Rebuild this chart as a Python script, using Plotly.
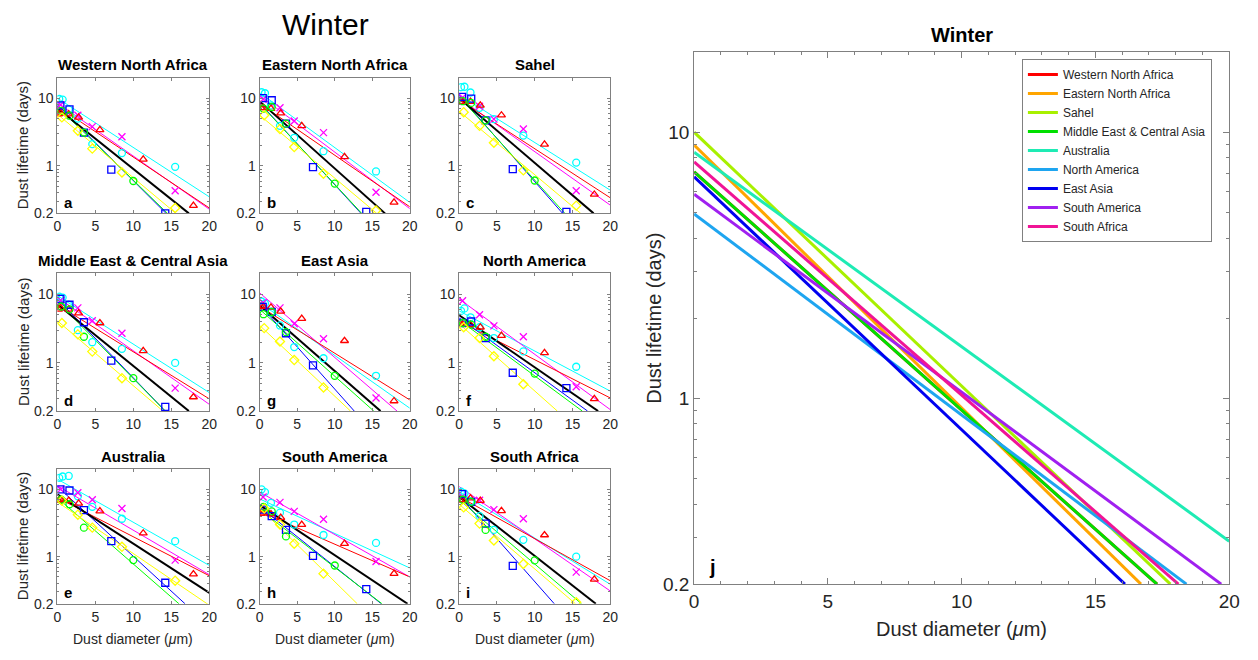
import math
import plotly.graph_objects as go

W, H = 1258, 660

# ---------------- data ----------------
regions = ["Western North Africa", "Eastern North Africa", "Sahel",
           "Middle East & Central Asia", "Australia", "North America",
           "East Asia", "South America", "South Africa"]
region_colors = ["#FF0000", "#FFA500", "#A8F000", "#00E000", "#1EEBB4",
                 "#1EA5F0", "#0000F0", "#A020F0", "#F01496"]
# multi-model mean fit per region: value at d=0 and end point
mean_start = [7.1, 8.95, 10.0, 7.1, 8.4, 4.93, 6.8, 5.84, 7.74]
mean_end_x = [17.3, 16.7, 17.8, 17.3, 20.0, 18.4, 16.1, 19.7, 18.1]
mean_end_y = [0.2, 0.2, 0.2, 0.2, 0.29, 0.2, 0.2, 0.2, 0.2]

# panel layout order (row-major) -> region index, letter
panel_region = [0, 1, 2, 3, 6, 5, 4, 7, 8]
panel_letter = ["a", "b", "c", "d", "g", "f", "e", "h", "i"]

model_names = ["cyan", "magenta", "red", "blue", "green", "yellow"]
model_colors = ["#00FFFF", "#FF00FF", "#FF0000", "#0000FF", "#00FF00", "#FFFF00"]
model_symbols = ["circle-open", "x-thin-open", "triangle-up-open", "square-open",
                 "circle-open", "diamond-open"]

cyan_x = [0.25, 0.7, 1.5, 2.7, 4.6, 8.5, 15.5]
magenta_x = [0.45, 2.7, 4.6, 8.5, 15.5]
red_x = [0.15, 0.45, 1.5, 2.8, 5.6, 11.3, 17.9]
blue_x = [0.4, 1.6, 3.5, 7.1, 14.2]
green_x = [0.5, 1.6, 3.5, 10.0]
yellow_x = [0.6, 2.7, 4.6, 8.5, 15.5]

cyan_y = {
    "Western North Africa": [9.7, 9.5, 6.8, 5.0, 2.1, 1.55, 0.97],
    "Eastern North Africa": [12.2, 11.8, 7.8, 3.9, 2.6, 1.65, 0.83],
    "Sahel": [14.5, 14.7, 12.1, 7.2, 4.9, 2.8, 1.12],
    "Middle East & Central Asia": [9.2, 8.9, 7.0, 3.0, 2.0, 1.6, 1.0],
    "Australia": [14.8, 15.5, 15.8, 7.9, 5.5, 3.66, 1.7],
    "North America": [5.7, 6.2, 4.6, 3.3, 2.3, 1.47, 0.88],
    "East Asia": [7.8, 7.3, 5.4, 3.5, 1.7, 1.17, 0.65],
    "South America": [10.0, 9.1, 6.3, 4.5, 3.0, 2.1, 1.6],
    "South Africa": [9.2, 8.7, 6.6, 4.0, 2.5, 1.78, 1.0],
}
magenta_y = {
    "Western North Africa": [8.0, 5.6, 3.8, 2.7, 0.43],
    "Eastern North Africa": [9.6, 7.2, 4.6, 3.1, 0.41],
    "Sahel": [10.2, 7.6, 4.9, 3.5, 0.43],
    "Middle East & Central Asia": [8.1, 6.3, 4.1, 2.7, 0.43],
    "Australia": [10.0, 8.9, 7.0, 5.2, 0.89],
    "North America": [8.0, 5.0, 3.45, 2.4, 0.45],
    "East Asia": [7.5, 6.3, 3.7, 2.25, 0.31],
    "South America": [7.7, 6.4, 4.7, 3.6, 0.85],
    "South Africa": [7.8, 6.9, 5.0, 3.65, 0.59],
}
red_y = {
    "Western North Africa": [5.8, 6.0, 5.8, 5.2, 3.4, 1.25, 0.26],
    "Eastern North Africa": [7.2, 7.2, 7.0, 6.0, 3.9, 1.36, 0.29],
    "Sahel": [8.8, 8.9, 8.9, 7.8, 5.6, 2.08, 0.38],
    "Middle East & Central Asia": [6.0, 6.3, 6.0, 5.3, 3.8, 1.5, 0.32],
    "Australia": [6.8, 7.0, 6.8, 6.2, 4.75, 2.23, 0.55],
    "North America": [3.7, 3.6, 3.6, 3.3, 2.5, 1.4, 0.3],
    "East Asia": [6.6, 6.6, 6.4, 5.6, 4.4, 2.1, 0.28],
    "South America": [4.4, 4.4, 4.3, 3.8, 3.0, 1.56, 0.56],
    "South Africa": [6.9, 6.9, 7.4, 6.8, 4.8, 2.1, 0.46],
}
blue_y = {
    "Western North Africa": [7.8, 6.8, 3.1, 0.88, 0.2],
    "Eastern North Africa": [10.0, 9.3, 4.2, 0.96, 0.21],
    "Sahel": [10.4, 9.8, 4.7, 0.9, 0.21],
    "Middle East & Central Asia": [8.5, 7.0, 3.9, 1.08, 0.23],
    "Australia": [10.0, 9.6, 4.9, 1.7, 0.41],
    "North America": [3.8, 4.0, 2.3, 0.72, 0.43],
    "East Asia": [6.5, 5.5, 2.7, 0.92, None],
    "South America": [5.0, 4.0, 2.5, 1.03, 0.33],
    "South Africa": [8.5, 6.5, 3.1, 0.73, None],
}
green_y = {
    "Western North Africa": [6.5, 5.5, 3.1, 0.6],
    "Eastern North Africa": [7.0, 7.4, 4.2, 0.55],
    "Sahel": [9.0, 8.5, 4.7, 0.61],
    "Middle East & Central Asia": [6.6, 6.0, 2.4, 0.6],
    "Australia": [7.0, 6.0, 2.7, 0.89],
    "North America": [3.8, 3.6, 2.4, 0.7],
    "East Asia": [5.1, 5.5, 2.8, 0.65],
    "South America": [5.5, 4.7, 2.0, 0.74],
    "South Africa": [7.0, 6.5, 2.5, 0.88],
}
yellow_y = {
    "Western North Africa": [5.2, 3.3, 1.8, 0.8, 0.24],
    "Eastern North Africa": [5.6, 3.5, 1.9, 0.77, 0.22],
    "Sahel": [6.2, 3.9, 2.2, 0.86, 0.26],
    "Middle East & Central Asia": [3.8, 2.6, 1.46, 0.6, None],
    "Australia": [6.8, 4.2, 2.7, 1.4, 0.44],
    "North America": [3.3, 2.3, 1.25, 0.49, None],
    "East Asia": [3.2, 2.05, 1.1, 0.44, None],
    "South America": [5.2, 3.0, 1.56, 0.56, None],
    "South Africa": [5.4, 3.1, 1.74, 0.78, 0.21],
}

# per-model fit lines in each region: (value at d=0, end diameter, end value)
fit_lines = {
    "Western North Africa": [(10, 20, 0.35), (8.5, 20, 0.23), (7.6, 20, 0.24), (8, 14.3, 0.2), (7.5, 14.5, 0.2), (5.8, 15.6, 0.2)],
    "Eastern North Africa": [(12, 20, 0.29), (10.9, 20, 0.235), (8.3, 20, 0.25), (8.5, 13.5, 0.2), (8.3, 13.6, 0.2), (5.6, 15.6, 0.2)],
    "Sahel": [(11.2, 20, 0.44), (10, 20, 0.265), (9.5, 20, 0.34), (11, 13.7, 0.2), (10.5, 14.0, 0.2), (6.4, 16.1, 0.2)],
    "Middle East & Central Asia": [(9.5, 20, 0.37), (9, 20, 0.25), (7, 20, 0.30), (8.5, 14.2, 0.2), (7.8, 14.2, 0.2), (4.1, 13.9, 0.2)],
    "Australia": [(14.2, 20, 0.74), (11.3, 20, 0.54), (7.5, 20, 0.52), (11, 16.8, 0.2), (7.5, 16.0, 0.2), (6.5, 20, 0.19)],
    "North America": [(5.7, 20, 0.39), (8.5, 20, 0.21), (4.0, 20, 0.31), (4.5, 17.0, 0.2), (4.2, 16.3, 0.2), (3.7, 13.0, 0.2)],
    "East Asia": [(7.5, 20, 0.22), (10.4, 18.3, 0.2), (6.6, 20, 0.29), (7, 12.6, 0.2), (6, 15.2, 0.2), (3.5, 12.1, 0.2)],
    "South America": [(7.2, 20, 0.68), (9.1, 20, 0.5), (4.7, 20, 0.5), (5.5, 16.2, 0.2), (5, 16.3, 0.2), (5.3, 13.0, 0.2)],
    "South Africa": [(9.2, 20, 0.39), (11, 20, 0.31), (7.8, 20, 0.44), (8, 12.6, 0.2), (7, 16.2, 0.2), (6, 15.4, 0.2)],
}

x_ticks = [0, 5, 10, 15, 20]
y_ticks = [0.2, 1, 10]
y_tick_text = ["0.2", "1", "10"]
y_minor = [0.3, 0.4, 0.5, 0.6, 0.7, 0.8, 0.9, 2, 3, 4, 5, 6, 7, 8, 9]

model_x = [cyan_x, magenta_x, red_x, blue_x, green_x, yellow_x]
model_y = [cyan_y, magenta_y, red_y, blue_y, green_y, yellow_y]

# ---------------- layout geometry (pixels) ----------------
col_px = [(53, 207), (258, 410), (460, 613)]
row_px = [(79, 217), (278, 418), (477, 614)]
big_px = (698, 1240, 53, 594)

FONT = "Liberation Sans, Arial, sans-serif"
TXT = "#262626"
AX = "#808080"


def fx(p):
    return p / W


def fy(p):
    return 1 - p / H


fig = go.Figure()
layout = {}
annotations = []

for k in range(9):
    r, c = divmod(k, 3)
    n = k + 1
    xs = "x" if n == 1 else f"x{n}"
    ys = "y" if n == 1 else f"y{n}"
    x0, x1 = col_px[c]
    y0, y1 = row_px[r]
    layout[f"xaxis{n}"] = dict(
        domain=[fx(x0), fx(x1)], anchor=ys, range=[0, 20], tickvals=x_ticks,
        ticks="inside", ticklen=3, tickcolor=AX, showline=True, mirror="ticks",
        linecolor=AX, linewidth=1, showgrid=False, zeroline=False,
        tickfont=dict(size=14, color=TXT, family=FONT),
    )
    layout[f"yaxis{n}"] = dict(
        domain=[fy(y1), fy(y0)], anchor=xs, type="log",
        range=[math.log10(0.2), math.log10(20)], tickvals=y_ticks, ticktext=y_tick_text,
        ticks="inside", ticklen=3, tickcolor=AX, showline=True, mirror="ticks",
        linecolor=AX, linewidth=1, showgrid=False, zeroline=False,
        minor=dict(tickvals=y_minor, ticks="inside", ticklen=2, tickcolor=AX, showgrid=False),
        tickfont=dict(size=14, color=TXT, family=FONT),
    )
    reg = regions[panel_region[k]]
    ri = panel_region[k]
    # model fit lines
    for m in range(6):
        s, ex, ey = fit_lines[reg][m]
        fig.add_trace(go.Scatter(x=[0, ex], y=[s, ey], mode="lines", xaxis=xs, yaxis=ys,
                                 line=dict(color=model_colors[m], width=1), showlegend=False,
                                 hoverinfo="skip"))
    # multi-model mean line
    fig.add_trace(go.Scatter(x=[0, mean_end_x[ri]], y=[mean_start[ri], mean_end_y[ri]],
                             mode="lines", xaxis=xs, yaxis=ys,
                             line=dict(color="#000000", width=2), showlegend=False))
    # model points
    for m in range(6):
        fig.add_trace(go.Scatter(
            x=model_x[m], y=model_y[m][reg], mode="markers", xaxis=xs, yaxis=ys,
            marker=dict(symbol=model_symbols[m], size=7, color=model_colors[m],
                        line=dict(width=1.3, color=model_colors[m])),
            showlegend=False))
    # title
    annotations.append(dict(text=f"<b>{reg}</b>", x=fx((x0 + x1) / 2), y=fy(y0 - 13),
                            xref="paper", yref="paper", showarrow=False,
                            font=dict(size=15, color="#000000", family=FONT),
                            xanchor="center", yanchor="middle"))
    # letter
    annotations.append(dict(text=f"<b>{panel_letter[k]}</b>", x=fx(x0 + 5), y=fy(y1 - 11),
                            xref="paper", yref="paper", showarrow=False,
                            font=dict(size=15, color="#000000", family=FONT),
                            xanchor="left", yanchor="middle"))
    if c == 0:
        annotations.append(dict(text="Dust lifetime (days)", x=fx(18), y=fy((y0 + y1) / 2),
                                xref="paper", yref="paper", showarrow=False, textangle=-90,
                                font=dict(size=15, color=TXT, family=FONT),
                                xanchor="center", yanchor="middle"))
    if r == 2:
        annotations.append(dict(text="Dust diameter (<i>μ</i>m)", x=fx((x0 + x1) / 2), y=fy(650),
                                xref="paper", yref="paper", showarrow=False,
                                font=dict(size=14, color=TXT, family=FONT),
                                xanchor="center", yanchor="middle"))

# ---------------- big panel ----------------
bx0, bx1, by0, by1 = big_px
layout["xaxis10"] = dict(
    domain=[fx(bx0), fx(bx1)], anchor="y10", range=[0, 20], tickvals=x_ticks,
    ticks="inside", ticklen=6, tickcolor=AX, showline=True, mirror="ticks",
    linecolor=AX, linewidth=1, showgrid=False, zeroline=False,
    minor=dict(dtick=1, ticks="inside", ticklen=3, tickcolor=AX, showgrid=False),
    tickfont=dict(size=19, color=TXT, family=FONT),
)
layout["yaxis10"] = dict(
    domain=[fy(by1), fy(by0)], anchor="x10", type="log",
    range=[math.log10(0.2), math.log10(20)], tickvals=y_ticks, ticktext=y_tick_text,
    ticks="inside", ticklen=6, tickcolor=AX, showline=True, mirror="ticks",
    linecolor=AX, linewidth=1, showgrid=False, zeroline=False,
    minor=dict(tickvals=y_minor, ticks="inside", ticklen=3, tickcolor=AX, showgrid=False),
    tickfont=dict(size=19, color=TXT, family=FONT),
)
for i, reg in enumerate(regions):
    fig.add_trace(go.Scatter(x=[0, mean_end_x[i]], y=[mean_start[i], mean_end_y[i]],
                             mode="lines", xaxis="x10", yaxis="y10", name=reg,
                             line=dict(color=region_colors[i], width=3), showlegend=True))

annotations += [
    dict(text="Winter", x=fx(325), y=fy(25), xref="paper", yref="paper", showarrow=False,
         font=dict(size=30, color="#000000", family=FONT), xanchor="center", yanchor="middle"),
    dict(text="<b>Winter</b>", x=fx((bx0 + bx1) / 2), y=fy(36), xref="paper", yref="paper",
         showarrow=False, font=dict(size=20, color="#000000", family=FONT),
         xanchor="center", yanchor="middle"),
    dict(text="<b>j</b>", x=fx(bx0 + 13), y=fy(by1 - 17), xref="paper", yref="paper",
         showarrow=False, font=dict(size=20, color="#000000", family=FONT),
         xanchor="left", yanchor="middle"),
    dict(text="Dust lifetime (days)", x=fx(657), y=fy((by0 + by1) / 2), xref="paper",
         yref="paper", showarrow=False, textangle=-90,
         font=dict(size=20, color=TXT, family=FONT), xanchor="center", yanchor="middle"),
    dict(text="Dust diameter (<i>μ</i>m)", x=fx((bx0 + bx1) / 2), y=fy(640), xref="paper",
         yref="paper", showarrow=False, font=dict(size=20, color=TXT, family=FONT),
         xanchor="center", yanchor="middle"),
]

fig.update_layout(
    width=W, height=H, margin=dict(l=0, r=0, t=0, b=0),
    paper_bgcolor="white", plot_bgcolor="white",
    font=dict(family=FONT, color=TXT),
    annotations=annotations,
    legend=dict(x=fx(1030), y=fy(60), xanchor="left", yanchor="top",
                bgcolor="white", bordercolor=AX, borderwidth=1,
                font=dict(size=12, color=TXT, family=FONT), tracegroupgap=0,
                itemwidth=30),
    **layout,
)

fig.write_html("out.html",
               post_script="document.body.style.margin='0';document.body.style.padding='0';")
